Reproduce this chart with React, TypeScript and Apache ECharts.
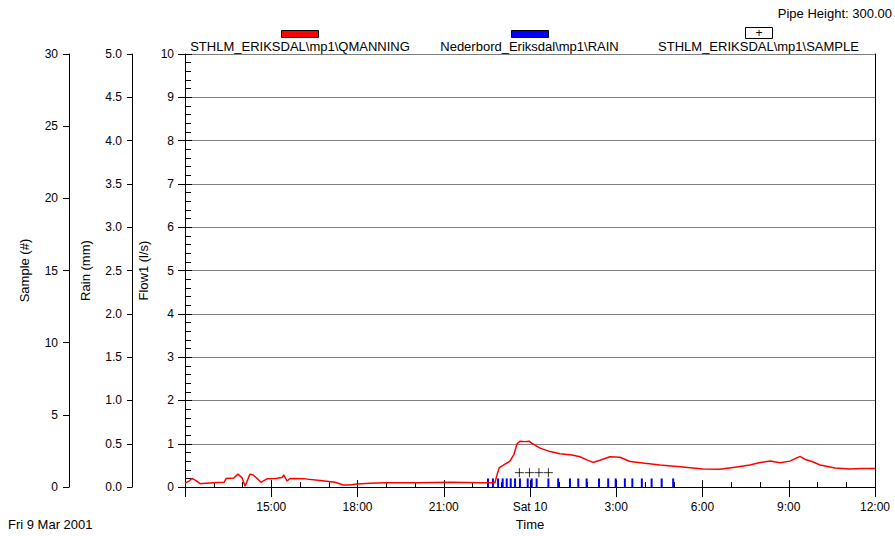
import React, { useEffect, useRef } from "react";
import * as echarts from "echarts";

// Hours after Fri 9 Mar 2001 12:00 and flow (l/s) for QMANNING
const flowHours = [
  0.0, 0.14, 0.24, 0.38, 0.52, 0.73, 0.97, 1.36, 1.43, 1.7, 1.84, 1.98, 2.09, 2.26, 2.37, 2.54, 2.64, 2.85,
  3.17, 3.37, 3.44, 3.55, 3.65, 4.17, 4.7, 5.22, 5.5, 5.74, 5.98, 6.43, 6.96, 8.17, 9.22, 10.26, 10.78,
  10.86, 10.93, 11.06, 11.3, 11.44, 11.55, 11.65, 11.83, 11.97, 12.07, 12.35, 12.7, 13.04, 13.46, 13.74,
  13.98, 14.19, 14.43, 14.78, 15.13, 15.48, 16.0, 16.52, 17.22, 18.02, 18.61, 19.13, 19.65, 20.0, 20.35,
  20.7, 21.04, 21.39, 21.6, 21.81, 22.09, 22.61, 23.13, 23.55, 24.0,
];
const flowValues = [
  0.09, 0.14, 0.2, 0.15, 0.08, 0.09, 0.1, 0.11, 0.2, 0.21, 0.3, 0.22, 0.02, 0.3, 0.28, 0.18, 0.11, 0.19,
  0.2, 0.22, 0.28, 0.14, 0.2, 0.19, 0.15, 0.11, 0.05, 0.05, 0.07, 0.09, 0.1, 0.1, 0.11, 0.1, 0.1,
  0.3, 0.45, 0.5, 0.6, 0.75, 1.0, 1.06, 1.05, 1.06, 1.01, 0.9, 0.82, 0.77, 0.74, 0.7,
  0.63, 0.57, 0.62, 0.7, 0.69, 0.59, 0.55, 0.51, 0.47, 0.42, 0.41, 0.46, 0.51, 0.57, 0.6,
  0.56, 0.6, 0.71, 0.63, 0.59, 0.51, 0.44, 0.42, 0.43, 0.43,
];

// Rain gauge tips (hours) and depth per tip (mm)
const rainHours = [
  10.54, 10.71, 10.89, 11.05, 11.19, 11.33, 11.48, 11.65, 11.92, 12.06, 12.23, 12.64, 12.98, 13.39,
  13.68, 13.97, 14.4, 14.72, 14.98, 15.3, 15.56, 15.89, 16.23, 16.58, 16.98,
];
const rainDepth = 0.1;

// Samples taken (hours) and sample number axis value
const sampleHours = [11.63, 11.98, 12.31, 12.64];
const sampleValue = 1;

const legendNames = [
  "STHLM_ERIKSDAL\\mp1\\QMANNING",
  "Nederbord_Eriksdal\\mp1\\RAIN",
  "STHLM_ERIKSDAL\\mp1\\SAMPLE",
];

const FONT = "'Liberation Sans', Arial, sans-serif";

const timeLabel = (v: number) => {
  if (v === 0) return "";
  if (v === 12) return "Sat 10";
  return `${(12 + v) % 24 === 0 ? 12 : (12 + v) % 24}:00`;
};

export default function App() {
  const ref = useRef<HTMLDivElement>(null);

  useEffect(() => {
    if (!ref.current) return;
    const chart = echarts.init(ref.current, null, { renderer: "svg" });

    const labelStyle = { color: "#000", fontFamily: FONT, fontSize: 12 };
    const nameStyle = { color: "#000", fontFamily: FONT, fontSize: 13 };
    const blackLine = { show: true, lineStyle: { color: "#000", width: 1 } };

    chart.setOption({
      animation: false,
      backgroundColor: "#fff",
      textStyle: { fontFamily: FONT },
      grid: { left: 185, right: 20, top: 54, bottom: 47, containLabel: false },
      xAxis: [
        {
          type: "value",
          min: 0,
          max: 24,
          interval: 3,
          position: "bottom",
          name: "Time",
          nameLocation: "middle",
          nameGap: 27,
          nameTextStyle: nameStyle,
          axisLine: blackLine,
          axisTick: { show: true, inside: false, length: 10, lineStyle: { color: "#000" } },
          axisLabel: { ...labelStyle, margin: 14, formatter: timeLabel, showMinLabel: true },
          splitLine: { show: false },
        },
        {
          type: "value",
          min: 0,
          max: 24,
          interval: 3,
          position: "bottom",
          axisLine: { show: false },
          axisTick: { show: true, inside: true, length: 7, lineStyle: { color: "#000" } },
          minorTick: { show: true, splitNumber: 3, length: 5, lineStyle: { color: "#000" } },
          axisLabel: { show: false },
          splitLine: { show: false },
        },
      ],
      yAxis: [
        {
          type: "value",
          min: 0,
          max: 10,
          interval: 1,
          position: "left",
          offset: 0,
          name: "Flow1 (l/s)",
          nameLocation: "middle",
          nameGap: 32,
          nameRotate: 90,
          nameTextStyle: nameStyle,
          axisLine: blackLine,
          axisTick: { show: true, inside: false, length: 7, lineStyle: { color: "#000" } },
          axisLabel: { ...labelStyle, margin: 11 },
          splitLine: { show: true, lineStyle: { color: "#7f7f7f", width: 1 } },
        },
        {
          type: "value",
          min: 0,
          max: 10,
          interval: 1,
          position: "left",
          offset: 0,
          axisLine: { show: false },
          axisTick: { show: true, inside: true, length: 7, lineStyle: { color: "#000" } },
          minorTick: { show: true, splitNumber: 5, length: 6, lineStyle: { color: "#000" } },
          axisLabel: { show: false },
          splitLine: { show: false },
        },
        {
          type: "value",
          min: 0,
          max: 5,
          interval: 0.5,
          position: "left",
          offset: 53,
          name: "Rain (mm)",
          nameLocation: "middle",
          nameGap: 40,
          nameRotate: 90,
          nameTextStyle: nameStyle,
          axisLine: blackLine,
          axisTick: { show: true, length: 5, lineStyle: { color: "#000" } },
          axisLabel: { ...labelStyle, margin: 10, formatter: (v: number) => v.toFixed(1) },
          splitLine: { show: false },
        },
        {
          type: "value",
          min: 0,
          max: 30,
          interval: 5,
          position: "left",
          offset: 116,
          name: "Sample (#)",
          nameLocation: "middle",
          nameGap: 38,
          nameRotate: 90,
          nameTextStyle: nameStyle,
          axisLine: blackLine,
          axisTick: { show: true, length: 6, lineStyle: { color: "#000" } },
          axisLabel: { ...labelStyle, margin: 11 },
          splitLine: { show: false },
        },
        {
          type: "value",
          min: 0,
          max: 10,
          position: "right",
          axisLine: blackLine,
          axisTick: { show: false },
          axisLabel: { show: false },
          splitLine: { show: false },
        },
      ],
      series: [
        {
          type: "bar",
          name: legendNames[1],
          xAxisIndex: 0,
          yAxisIndex: 2,
          barWidth: 2,
          itemStyle: { color: "#0000ff" },
          data: rainHours.map((h) => [h, rainDepth]),
        },
        {
          type: "line",
          name: legendNames[0],
          xAxisIndex: 0,
          yAxisIndex: 0,
          symbol: "none",
          smooth: false,
          lineStyle: { color: "#ff0000", width: 1.5 },
          data: flowHours.map((h, i) => [h, flowValues[i]]),
        },
        {
          type: "scatter",
          name: legendNames[2],
          xAxisIndex: 0,
          yAxisIndex: 3,
          symbol: "path://M0 5 L10 5 M5 0 L5 10",
          symbolSize: 9,
          itemStyle: { color: "rgba(0,0,0,0)", borderColor: "#000", borderWidth: 1 },
          data: sampleHours.map((h) => [h, sampleValue]),
        },
      ],
      graphic: [
        {
          type: "text",
          right: 3,
          top: 7,
          style: { text: "Pipe Height: 300.00", fill: "#000", font: `13px ${FONT}` },
        },
        {
          type: "rect",
          shape: { x: 281.5, y: 30.5, width: 37, height: 7 },
          style: { fill: "#ff0000", stroke: "#000", lineWidth: 1 },
        },
        {
          type: "text",
          x: 300,
          y: 46,
          style: { text: legendNames[0], fill: "#000", font: `13px ${FONT}`, align: "center", verticalAlign: "middle" },
        },
        {
          type: "rect",
          shape: { x: 511.5, y: 30.5, width: 37, height: 7 },
          style: { fill: "#0000ff", stroke: "#000", lineWidth: 1 },
        },
        {
          type: "text",
          x: 529.5,
          y: 46,
          style: { text: legendNames[1], fill: "#000", font: `13px ${FONT}`, align: "center", verticalAlign: "middle" },
        },
        {
          type: "rect",
          shape: { x: 745.5, y: 27.5, width: 27, height: 11 },
          style: { fill: "#fff", stroke: "#000", lineWidth: 1 },
        },
        {
          type: "text",
          x: 759,
          y: 33,
          style: { text: "+", fill: "#000", font: `12px ${FONT}`, align: "center", verticalAlign: "middle" },
        },
        {
          type: "text",
          x: 758.5,
          y: 46,
          style: { text: legendNames[2], fill: "#000", font: `13px ${FONT}`, align: "center", verticalAlign: "middle" },
        },
        {
          type: "text",
          x: 8,
          y: 524,
          style: { text: "Fri 9 Mar 2001", fill: "#000", font: `13px ${FONT}`, verticalAlign: "middle" },
        },
      ],
    });

    return () => chart.dispose();
  }, []);

  return (
    <div
      ref={ref}
      style={{ position: "fixed", left: 0, top: 0, width: 895, height: 536, background: "#fff" }}
    />
  );
}
